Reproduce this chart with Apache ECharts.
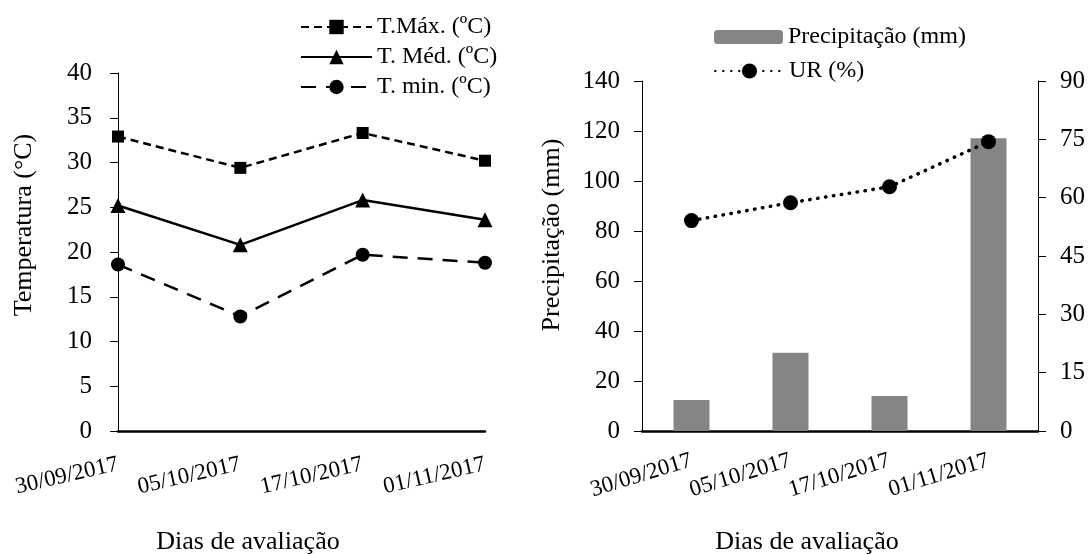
<!DOCTYPE html>
<html><head><meta charset="utf-8">
<script src="https://cdn.jsdelivr.net/npm/echarts/dist/echarts.min.js"></script>
<style>html,body{margin:0;padding:0;background:#fff}#c{width:1091px;height:554px}</style>
</head><body><div id="c"></div>
<script>
const dates = ['30/09/2017', '05/10/2017', '17/10/2017', '01/11/2017'];
const tMax = [32.9, 29.4, 33.3, 30.2];
const tMed = [25.2, 20.8, 25.8, 23.6];
const tMin = [18.6, 12.8, 19.7, 18.8];
const precip = [12.4, 31.3, 14.0, 117.1];
const ur = [54.1, 58.7, 62.8, 74.4];
const names = {
  tMax: 'T.Máx. (ºC)', tMed: 'T. Méd. (ºC)', tMin: 'T. min. (ºC)',
  precip: 'Precipitação (mm)', ur: 'UR (%)'
};
const titles = { tempY: 'Temperatura (°C)', precY: 'Precipitação (mm)', x: 'Dias de avaliação' };

const F = 'Liberation Serif';
const chart = echarts.init(document.getElementById('c'), null, { renderer: 'canvas' });
const axisLine = { lineStyle: { color: '#000', width: 1 } };
const xAxisLine = { lineStyle: { color: '#000', width: 2.5 } };
const tick = { show: true, length: 8, lineStyle: { color: '#000' } };
const ylab = (m) => ({ color: '#000', fontFamily: F, fontSize: 25, margin: m });
const legText = { fontFamily: F, fontSize: 24, lineHeight: 24, color: '#000' };

chart.setOption({
  animation: false,
  grid: [
    { left: 118, top: 73, width: 367, height: 358 },
    { left: 642, top: 81, width: 396, height: 350 }
  ],
  legend: [
    { data: [names.tMax, names.tMed, names.tMin], orient: 'vertical', left: 295, top: 10,
      itemWidth: 71, itemHeight: 18, itemGap: 6, textStyle: legText },
    { data: [names.precip], orient: 'vertical', left: 709, top: 20,
      itemWidth: 69, itemHeight: 14, textStyle: legText },
    { data: [names.ur], orient: 'vertical', left: 709, top: 54,
      itemWidth: 69, itemHeight: 19, textStyle: legText }
  ],
  xAxis: [
    { type: 'category', gridIndex: 0, data: dates, boundaryGap: false,
      axisLine: xAxisLine, axisTick: { show: false },
      axisLabel: { interval: 0, hideOverlap: false, color: '#000', fontFamily: F, fontSize: 23, rotate: 13, margin: 33 } },
    { type: 'category', gridIndex: 1, data: dates, boundaryGap: true,
      axisLine: xAxisLine, axisTick: { show: false },
      axisLabel: { interval: 0, hideOverlap: false, color: '#000', fontFamily: F, fontSize: 23, rotate: 17, margin: 29 } }
  ],
  yAxis: [
    { type: 'value', gridIndex: 0, min: 0, max: 40, interval: 5, splitLine: { show: false },
      axisLine: { show: true, ...axisLine }, axisTick: tick, axisLabel: ylab(26) },
    { type: 'value', gridIndex: 1, min: 0, max: 140, interval: 20, splitLine: { show: false },
      axisLine: { show: true, ...axisLine }, axisTick: tick, axisLabel: ylab(22) },
    { type: 'value', gridIndex: 1, position: 'right', min: 0, max: 90, interval: 15, splitLine: { show: false },
      axisLine: { show: true, ...axisLine }, axisTick: tick, axisLabel: ylab(22) }
  ],
  series: [
    { name: names.tMax, type: 'line', xAxisIndex: 0, yAxisIndex: 0, data: tMax,
      symbol: 'rect', symbolSize: 12, itemStyle: { color: '#000' },
      lineStyle: { color: '#000', width: 2.5, type: [8, 5] } },
    { name: names.tMed, type: 'line', xAxisIndex: 0, yAxisIndex: 0, data: tMed,
      symbol: 'triangle', symbolSize: 15, itemStyle: { color: '#000' },
      lineStyle: { color: '#000', width: 2.5, type: 'solid' } },
    { name: names.tMin, type: 'line', xAxisIndex: 0, yAxisIndex: 0, data: tMin,
      symbol: 'circle', symbolSize: 14, itemStyle: { color: '#000' },
      lineStyle: { color: '#000', width: 2.5, type: [15, 10] } },
    { name: names.precip, type: 'bar', xAxisIndex: 1, yAxisIndex: 1, data: precip,
      barWidth: 36, itemStyle: { color: '#858585' } },
    { name: names.ur, type: 'line', xAxisIndex: 1, yAxisIndex: 2, data: ur,
      symbol: 'circle', symbolSize: 15, itemStyle: { color: '#000' },
      lineStyle: { color: '#000', width: 3.5, type: [0.5, 7.5], cap: 'round' } }
  ],
  graphic: [
    { type: 'text', x: 24, y: 225, rotation: Math.PI / 2,
      style: { text: titles.tempY, font: '26px "' + F + '"', fill: '#000', align: 'center', verticalAlign: 'middle' } },
    { type: 'text', x: 552, y: 235, rotation: Math.PI / 2,
      style: { text: titles.precY, font: '26px "' + F + '"', fill: '#000', align: 'center', verticalAlign: 'middle' } },
    { type: 'text', x: 248, y: 542,
      style: { text: titles.x, font: '26px "' + F + '"', fill: '#000', align: 'center', verticalAlign: 'middle' } },
    { type: 'text', x: 807, y: 542,
      style: { text: titles.x, font: '26px "' + F + '"', fill: '#000', align: 'center', verticalAlign: 'middle' } }
  ]
});
</script></body></html>
